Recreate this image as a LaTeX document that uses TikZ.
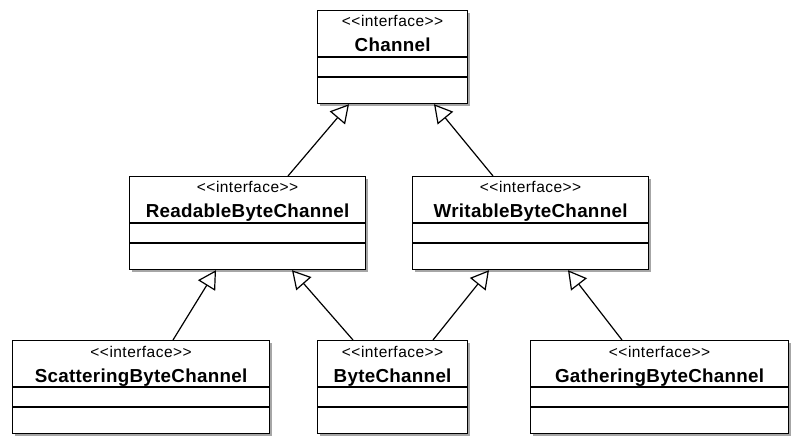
\documentclass[tikz,border=0pt]{standalone}
\usepackage{fontspec}
\setmainfont{Liberation Sans}
\newfontfamily\stfont[LetterSpace=3]{Liberation Sans}
\newfontfamily\nmfont[LetterSpace=1.5]{Liberation Sans}
\usetikzlibrary{arrows.meta,shadows,calc}
\tikzset{
  umlbox/.style={draw=black, line width=1.2pt, fill=white, rectangle, inner sep=0pt,
    minimum height=93pt, anchor=north west,
    drop shadow={shadow xshift=2.5pt, shadow yshift=-2.5pt, fill=black, opacity=0.35}},
  stereo/.style={inner sep=0pt, anchor=base, font=\stfont\fontsize{15.5}{16}\selectfont},
  cname/.style={inner sep=0pt, anchor=base, font=\nmfont\bfseries\fontsize{18.8}{20}\selectfont},
  divline/.style={line width=1.2pt},
  inherit/.style={line width=1.2pt, -{Triangle[open, length=18pt, width=20pt, line width=1.2pt]}}
}
\newcommand\umlclass[5]{%
  \node[umlbox, minimum width=#4] (#1) at (#2,#3) {};
  \node[stereo] (#1-st) at ($(#1.north)+(0,-17)$) {\textless\textless interface\textgreater\textgreater};
  \node[cname] (#1-nm) at ($(#1.north)+(0,-42)$) {#5};
  \draw[divline] ($(#1.north west)+(0,-47)$) -- ($(#1.north east)+(0,-47)$);
  \draw[divline] ($(#1.north west)+(0,-67)$) -- ($(#1.north east)+(0,-67)$);
}
\begin{document}
\begin{tikzpicture}[x=1pt,y=1pt]
\useasboundingbox (0,0) rectangle (798,-446);
\umlclass{ch}{317}{-10}{150}{Channel}
\umlclass{rd}{129}{-176}{236}{ReadableByteChannel}
\umlclass{wr}{412}{-176}{236}{WritableByteChannel}
\umlclass{sc}{12}{-340}{257}{ScatteringByteChannel}
\umlclass{bc}{317}{-340}{150}{ByteChannel}
\umlclass{ga}{530}{-340}{258}{GatheringByteChannel}
% connector end points on box borders
\coordinate (ch-l) at ($(ch.south west)+(32,0)$);
\coordinate (ch-r) at ($(ch.south west)+(117,0)$);
\coordinate (rd-t) at ($(rd.north west)+(159,0)$);
\coordinate (wr-t) at ($(wr.north west)+(81,0)$);
\coordinate (rd-l) at ($(rd.south west)+(87,0)$);
\coordinate (rd-r) at ($(rd.south west)+(163,0)$);
\coordinate (wr-l) at ($(wr.south west)+(77,0)$);
\coordinate (wr-r) at ($(wr.south west)+(156,0)$);
\coordinate (sc-t) at ($(sc.north west)+(161,0)$);
\coordinate (bc-l) at ($(bc.north west)+(36,0)$);
\coordinate (bc-r) at ($(bc.north west)+(116,0)$);
\coordinate (ga-t) at ($(ga.north west)+(92,0)$);
\draw[inherit] (rd-t) -- (ch-l);
\draw[inherit] (wr-t) -- (ch-r);
\draw[inherit] (sc-t) -- (rd-l);
\draw[inherit] (bc-l) -- (rd-r);
\draw[inherit] (bc-r) -- (wr-l);
\draw[inherit] (ga-t) -- (wr-r);
\end{tikzpicture}
\end{document}
